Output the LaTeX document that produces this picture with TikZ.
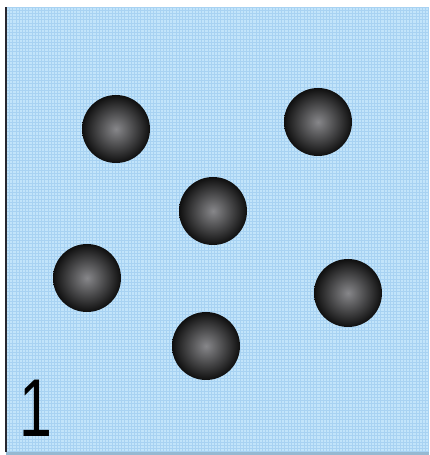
\documentclass[tikz,border=0pt]{standalone}
\usepackage{fontspec}
\setmainfont{Liberation Sans}
\definecolor{bgblue}{RGB}{194,228,250}
\definecolor{gridblue}{RGB}{168,210,242}
\definecolor{ballcore}{RGB}{135,135,138}
\definecolor{ballrim}{RGB}{15,15,15}
\definecolor{frameline}{RGB}{40,40,48}
\definecolor{bottomline}{RGB}{150,185,210}
\tikzset{
  ball/.style={circle, minimum size=68pt, inner sep=0pt, inner color=ballcore, outer color=ballrim},
}
\begin{document}
\begin{tikzpicture}[x=1pt,y=1pt]
\useasboundingbox (0,0) rectangle (429,455);
\fill[white] (0,0) rectangle (429,455);
\fill[bgblue] (6,0) rectangle (429,448);
\begin{scope}
\clip (6,0) rectangle (429,448);
\draw[gridblue, line width=0.7pt, step=3.2] (6,0) grid (429,448);
\end{scope}
\fill[bottomline] (6,0) rectangle (429,3);
\draw[frameline, line width=2.5pt] (6,3) -- (6,448);
\node[ball] (b1) at (116,326) {};
\node[ball] (b2) at (318,333) {};
\node[ball] (b3) at (213,244) {};
\node[ball] (b4) at (87,177) {};
\node[ball] (b5) at (348,162) {};
\node[ball] (b6) at (206,109) {};
\node[font=\fontsize{82}{82}\selectfont, anchor=base west, inner sep=0pt, text=black, xscale=0.72] (lbl) at (19,18) {1};
\end{tikzpicture}
\end{document}
